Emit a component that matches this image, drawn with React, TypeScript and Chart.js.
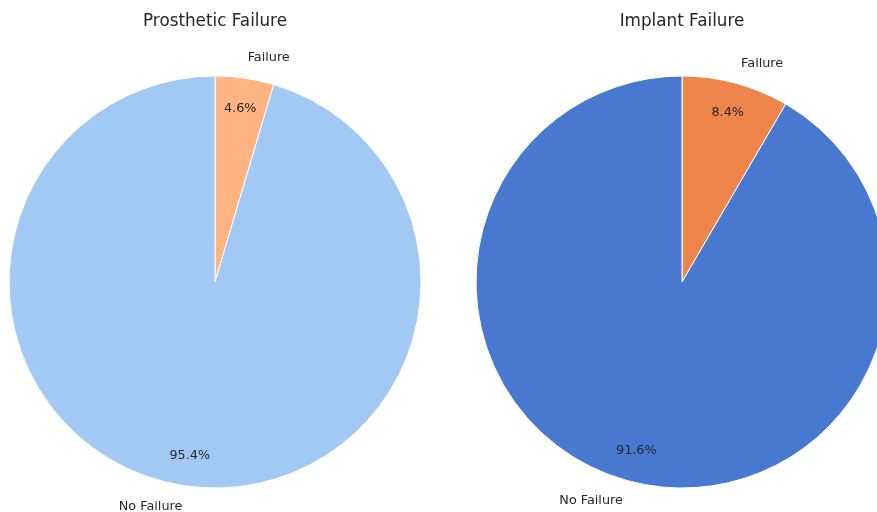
import React, { useEffect, useRef } from "react";
import { Chart, registerables } from "chart.js";

Chart.register(...registerables);

// Share of cases per outcome, in percent
const sliceLabels = ["Failure", "No Failure"];
const prostheticValues = [4.6, 95.4];
const implantValues = [8.4, 91.6];

const prostheticColors = ["#ffb482", "#a1c9f4"];
const implantColors = ["#ee854a", "#4878d0"];

const FONT = "'DejaVu Sans', 'Liberation Sans', sans-serif";
const TEXT = "#262626";

// Writes the slice name outside each wedge and its percentage inside it
const sliceText = {
  id: "sliceText",
  afterDatasetsDraw(chart: any) {
    const meta = chart.getDatasetMeta(0);
    const values: number[] = chart.data.datasets[0].data;
    const total = values.reduce((a, b) => a + b, 0);
    const names: string[] = chart.data.labels;
    const ctx: CanvasRenderingContext2D = chart.ctx;
    ctx.save();
    ctx.fillStyle = TEXT;
    ctx.font = `12.8px ${FONT}`;
    ctx.textBaseline = "middle";
    meta.data.forEach((arc: any, i: number) => {
      const { x, y, startAngle, endAngle, outerRadius } = arc.getProps(
        ["x", "y", "startAngle", "endAngle", "outerRadius"],
        true
      );
      const mid = (startAngle + endAngle) / 2;
      const cx = Math.cos(mid);
      const cy = Math.sin(mid);
      // name outside the wedge
      ctx.textAlign = cx > 0 ? "left" : "right";
      ctx.fillText(names[i], x + cx * outerRadius * 1.1, y + cy * outerRadius * 1.1);
      // percentage inside the wedge
      ctx.textAlign = "center";
      const pct = ((values[i] / total) * 100).toFixed(1) + "%";
      ctx.fillText(pct, x + cx * outerRadius * 0.85, y + cy * outerRadius * 0.85);
    });
    ctx.restore();
  },
};

function PieChart({
  title,
  values,
  colors,
  left,
}: {
  title: string;
  values: number[];
  colors: string[];
  left: number;
}) {
  const ref = useRef<HTMLCanvasElement>(null);
  useEffect(() => {
    if (!ref.current) return;
    const chart = new Chart(ref.current, {
      type: "pie",
      data: {
        labels: sliceLabels,
        datasets: [
          {
            data: values,
            backgroundColor: colors,
            borderColor: "#ffffff",
            borderWidth: 1,
            radius: 206,
          } as any,
        ],
      },
      options: {
        responsive: false,
        animation: false,
        events: [],
        layout: { padding: 0 },
        plugins: {
          legend: { display: false },
          tooltip: { enabled: false },
          title: {
            display: true,
            text: title,
            color: TEXT,
            font: { family: FONT, size: 16.8, weight: "normal" as any, lineHeight: 1.2 },
            padding: { top: 12, bottom: 7.84 },
          },
        },
      },
      plugins: [sliceText],
    });
    return () => chart.destroy();
  }, [title, values, colors]);

  return (
    <canvas
      ref={ref}
      width={430}
      height={524}
      style={{ position: "absolute", left, top: 0, width: 430, height: 524 }}
    />
  );
}

export default function App() {
  return (
    <div
      style={{
        position: "fixed",
        left: 0,
        top: 0,
        width: 877,
        height: 512,
        overflow: "hidden",
        background: "#ffffff",
      }}
    >
      <PieChart title="Prosthetic Failure" values={prostheticValues} colors={prostheticColors} left={0} />
      <PieChart title="Implant Failure" values={implantValues} colors={implantColors} left={467} />
    </div>
  );
}
